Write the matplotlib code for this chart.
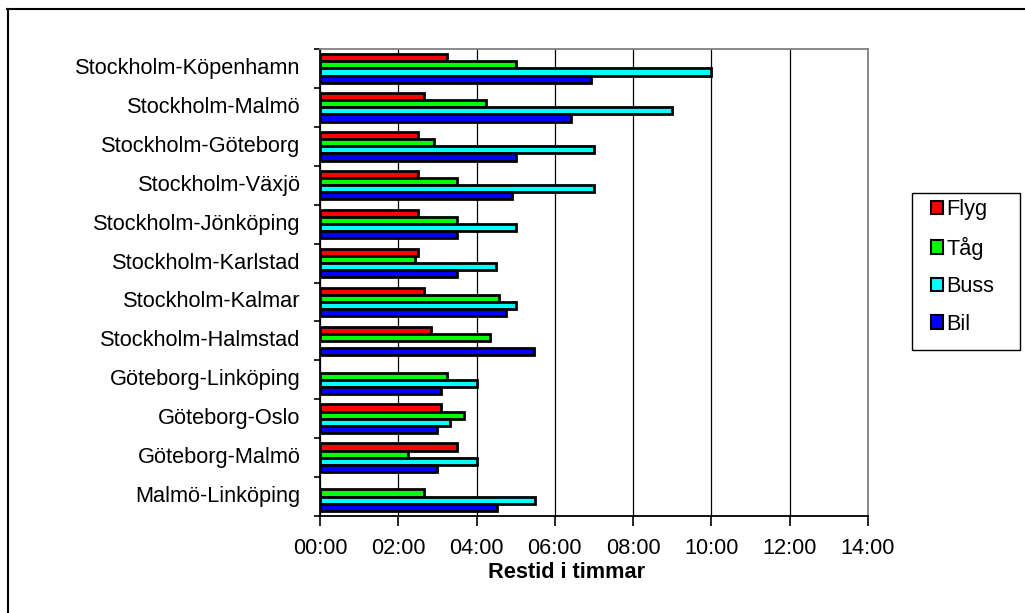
import matplotlib
matplotlib.use('Agg')
import matplotlib.pyplot as plt
import numpy as np
from matplotlib.patches import Patch, Rectangle
from matplotlib.lines import Line2D
from matplotlib.ticker import FixedLocator, FuncFormatter

# Restider per sträcka och färdmedel (tim:min), None = saknas
routes = ['Stockholm-Köpenhamn', 'Stockholm-Malmö', 'Stockholm-Göteborg',
          'Stockholm-Växjö', 'Stockholm-Jönköping', 'Stockholm-Karlstad',
          'Stockholm-Kalmar', 'Stockholm-Halmstad', 'Göteborg-Linköping',
          'Göteborg-Oslo', 'Göteborg-Malmö', 'Malmö-Linköping']
flyg = ['3:15', '2:40', '2:30', '2:30', '2:30', '2:30', '2:40', '2:50',
        None, '3:05', '3:30', None]
tag = ['5:00', '4:15', '2:55', '3:30', '3:30', '2:25', '4:35', '4:20',
       '3:15', '3:40', '2:15', '2:40']
buss = ['10:00', '9:00', '7:00', '7:00', '5:00', '4:30', '5:00', None,
        '4:00', '3:20', '4:00', '5:30']
bil = ['6:55', '6:25', '5:00', '4:55', '3:30', '3:30', '4:45', '5:28',
       '3:05', '3:00', '3:00', '4:32']

series = [('Flyg', flyg, '#FF0000'), ('Tåg', tag, '#00FF00'),
          ('Buss', buss, '#00FFFF'), ('Bil', bil, '#0000FF')]


def to_hours(t):
    h, m = t.split(':')
    return int(h) + int(m) / 60


plt.rcParams['font.family'] = ['Liberation Sans', 'DejaVu Sans']
fs = 15.7

fig = plt.figure(figsize=(10.25, 6.13), dpi=100)
ax = fig.add_axes([320 / 1025, 1 - 516 / 613, 548 / 1025, 467 / 613])

bar_h = 0.183
y = np.arange(len(routes))
for k, (name, vals, color) in enumerate(series):
    off = (k - 1.5) * bar_h
    idx = [i for i, v in enumerate(vals) if v is not None]
    ax.barh(y[idx] + off, [to_hours(vals[i]) for i in idx], height=bar_h,
            color=color, edgecolor='black', linewidth=2.0, zorder=3)

ax.set_xlim(0, 14)
ax.set_ylim(len(routes) - 0.5, -0.5)

ax.xaxis.set_major_locator(FixedLocator(np.arange(0, 15, 2)))
ax.xaxis.set_major_formatter(FuncFormatter(lambda v, p: f'{int(round(v)):02d}:00'))
ax.tick_params(axis='x', direction='out', length=7, width=1.2, pad=8.5,
               labelsize=fs, colors='black')

# streck mellan grupperna, etiketter mitt för varje grupp
ax.yaxis.set_major_locator(FixedLocator(np.arange(-0.5, len(routes), 1)))
ax.yaxis.set_major_formatter(FuncFormatter(lambda v, p: ''))
ax.yaxis.set_minor_locator(FixedLocator(y))
ax.set_yticks(y, routes, minor=True)
ax.tick_params(axis='y', which='major', direction='out', length=4, width=1.2)
ax.tick_params(axis='y', which='minor', length=0, pad=14, labelsize=fs)
for lbl in ax.get_yticklabels(minor=True):
    lbl.set_verticalalignment('center')

ax.grid(axis='x', color='black', linewidth=0.9, zorder=0)
ax.set_axisbelow(True)

for side in ('left', 'bottom'):
    ax.spines[side].set_color('black')
    ax.spines[side].set_linewidth(1.3)
for side in ('top', 'right'):
    ax.spines[side].set_color('#808080')
    ax.spines[side].set_linewidth(1.3)

ax.set_xlabel('Restid i timmar', fontsize=fs, fontweight='bold')
ax.xaxis.set_label_coords((567 - 320) / 548, -(562 - 516) / 467)

# förklaring med egen ram
fig.add_artist(Rectangle((912 / 1025, 1 - 350 / 613), 108 / 1025, 157 / 613,
                         transform=fig.transFigure, facecolor='white',
                         edgecolor='black', linewidth=1.0))
handles = [Patch(facecolor=c, edgecolor='black', linewidth=1.5, label=n)
           for n, _, c in series]
fig.legend(handles=handles, loc='upper left',
           bbox_to_anchor=(931 / 1025, 1 - 199 / 613),
           frameon=False, fontsize=fs, borderpad=0, borderaxespad=0,
           handlelength=0.56, handleheight=0.56, handletextpad=0.15,
           labelspacing=0.76)

# ytterkant
fig.add_artist(Line2D([7.5 / 1025, 7.5 / 1025], [0, 1 - 9 / 613],
                      transform=fig.transFigure, color='black', linewidth=1.5))
fig.add_artist(Line2D([7 / 1025, 1], [1 - 9 / 613, 1 - 9 / 613],
                      transform=fig.transFigure, color='black', linewidth=1.5))

fig.savefig('out.png', dpi=100)
